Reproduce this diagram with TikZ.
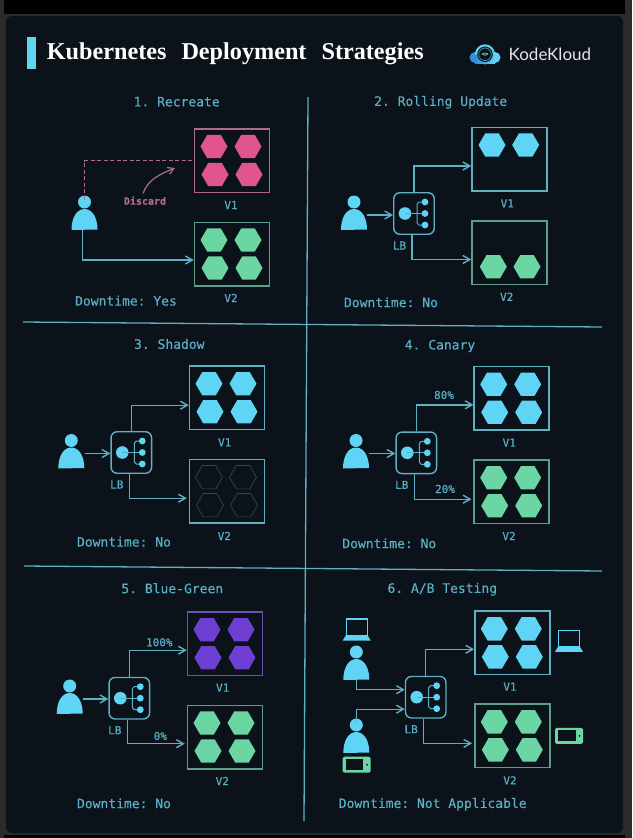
\documentclass[tikz,border=0pt]{standalone}
\usepackage{fontspec}
\setmonofont[FakeBold=0.3]{DejaVu Sans Mono}
\setmainfont{Liberation Serif}
\newfontfamily\logofont{Lato}
\usetikzlibrary{arrows.meta,shapes.geometric}
\definecolor{panelbg}{HTML}{0B1219}
\definecolor{sidegrey}{HTML}{2A2B2C}
\definecolor{cyanfill}{HTML}{5FD4F4}
\definecolor{lineblue}{HTML}{5FB0C4}
\definecolor{textblue}{HTML}{5AAFC6}
\definecolor{pinkfill}{HTML}{E0568C}
\definecolor{pinkline}{HTML}{B06A8E}
\definecolor{greenfill}{HTML}{6BD6A4}
\definecolor{greenline}{HTML}{5E9E86}
\definecolor{purplefill}{HTML}{6F3FD4}
\definecolor{purpleline}{HTML}{6A52B0}
\definecolor{dimline}{HTML}{36474C}
\definecolor{logoblue}{HTML}{2F8FD8}
\tikzset{
	hexnode/.style={regular polygon,regular polygon sides=6,minimum size=27pt,inner sep=0pt},
	vbox/.style={draw=#1,line width=1.5pt,minimum width=75pt,minimum height=63.5pt,inner sep=0pt},
	lbbox/.style={draw=lineblue,line width=1.4pt,rounded corners=6pt,minimum width=40.5pt,minimum height=41.5pt,inner sep=0pt},
	lbl/.style={font=\ttfamily\fontsize{13}{13}\selectfont,text=textblue,inner sep=0pt},
	smalltxt/.style={font=\ttfamily\fontsize{11}{11}\selectfont,text=textblue,inner sep=0pt},
	arr/.style={draw=lineblue,line width=1.4pt,-{Straight Barb[length=7pt,width=8pt]}},
	divline/.style={draw=lineblue,line width=1.3pt},
	usernode/.style={minimum width=26pt,minimum height=30pt,inner sep=0pt}
}
% user: box centre at #2,#3
\newcommand{\userat}[3]{
	\node[usernode] (#1) at (#2,#3) {};
	\fill[cyanfill] (#2,#3-13) circle (6.5);
	\fill[cyanfill] (#2-13,#3+15) .. controls (#2-13,#3+3) and (#2-8,#3-6) .. (#2,#3-6)
		.. controls (#2+8,#3-6) and (#2+13,#3+3) .. (#2+13,#3+14.5) -- cycle;
}
% load balancer
\newcommand{\lbat}[3]{
	\node[lbbox] (#1) at (#2,#3) {};
	\fill[cyanfill] (#2-9,#3) circle (6.3);
	\draw[lineblue,line width=1pt] (#2-9,#3) -- (#2+11,#3);
	\draw[lineblue,line width=1pt] (#2+11,#3-11.5) -- (#2+5,#3-11.5) -- (#2+3,#3-9.5) -- (#2+3,#3+9.5) -- (#2+5,#3+11.5) -- (#2+11,#3+11.5);
	\foreach \dd in {-11.5,0,11.5} \fill[cyanfill] (#2+11,#3+\dd) circle (3.4);
	\node[smalltxt] (#1lab) at (#2-14.5,#3+32) {LB};
}
% version box with four pods
\newcommand{\podsat}[5]{
	\node[vbox=#5] (#1) at (#2,#3) {};
	\foreach \dx/\dy/\pod in {-18/-14/a,16/-14/b,-17/14/c,17/14/d}
		\node[hexnode,#4] (#1\pod) at (#2+\dx,#3+\dy) {};
}
% laptop and phone
\newcommand{\laptopat}[3]{
	\node[inner sep=0pt,minimum width=28pt,minimum height=22pt] (#1) at (#2,#3) {};
	\draw[cyanfill,line width=1.2pt,fill=panelbg] (#2-10.5,#3-10.5) rectangle (#2+10.5,#3+6);
	\fill[cyanfill] (#2-11,#3+6) -- (#2+11,#3+6) -- (#2+14,#3+11) -- (#2-14,#3+11) -- cycle;
}
\newcommand{\phoneat}[3]{
	\node[inner sep=0pt,minimum width=28pt,minimum height=16pt] (#1) at (#2,#3) {};
	\fill[greenfill,rounded corners=1.5pt] (#2-14,#3-8) rectangle (#2+14,#3+8);
	\fill[panelbg] (#2-11,#3-5.5) rectangle (#2+6.5,#3+5.5);
	\fill[panelbg] (#2+10.5,#3) circle (1);
}
\begin{document}
\begin{tikzpicture}[x=1pt,y=-1pt]
	\useasboundingbox (0,0) rectangle (632,838);
	\fill[sidegrey] (0,0) rectangle (632,838);
	\fill[black] (4,0) rectangle (625,14);
	\fill[black] (4,835) rectangle (625,838);
	\fill[panelbg,rounded corners=6pt] (6,16) rectangle (623,833);
	% title
	\fill[cyanfill] (27,37) rectangle (36,69);
	\node[font=\bfseries\fontsize{24.2}{24}\selectfont,text=white,anchor=west,inner sep=0pt] (title) at (46.7,53.5) {Kubernetes\hspace{15pt}Deployment\hspace{15pt}Strategies};
	% logo
	\fill[logoblue] (475,57.5) circle (5.5);
	\fill[cyanfill] (495,57.5) circle (5.5);
	\fill[cyanfill] (485,54.3) circle (10);
	\fill[left color=logoblue,right color=cyanfill] (475,55) rectangle (495,63);
	\fill[panelbg] (485,54.3) circle (7.8);
	\draw[cyanfill!70!panelbg,line width=.7pt] (485,54.3) circle (6.3);
	\node[text=cyanfill,font=\ttfamily\fontsize{5.5}{6}\selectfont,inner sep=0pt] (logomark) at (485,54.3) {<>};
	\node[font=\logofont\fontsize{17}{18}\selectfont,text=white!90!black,anchor=west,inner sep=0pt] (logo) at (508.5,54.5) {KodeKloud};
	% dividers
	\draw[divline] (308,97) -- (304,821);
	\draw[divline] (23,322) -- (602,327);
	\draw[divline] (24,566) -- (602,571);
	% 1. recreate
	\node[lbl] (ta) at (176.7,101.7) {1. Recreate};
	\podsat{pa}{232}{160.5}{fill=pinkfill}{pinkline}
	\podsat{pb}{232}{254}{fill=greenfill}{greenline}
	\userat{ua}{84.5}{215}
	\node[font=\ttfamily\bfseries\fontsize{10}{10}\selectfont,text=pinkline,inner sep=0pt] (disc) at (145,200.7) {Discard};
	\coordinate (disctip) at (175,168);
	\draw[pinkline,line width=1.4pt,dash pattern=on 4pt off 2.5pt] (ua.north) |- (pa.west);
	\draw[pinkline,line width=1.2pt,-{Straight Barb[length=6pt,width=7pt]}] ([xshift=-2pt,yshift=3pt]disc.north) .. controls (148,180) and (158,175) .. (disctip);
	\draw[arr] ([xshift=-2pt]ua.south) |- ([yshift=-6pt]pb.west);
	\node[smalltxt] (va) at (231,205) {V1};
	\node[smalltxt] (vb) at (231,298) {V2};
	\node[lbl] (da) at (126,300.7) {Downtime: Yes};
	% 2. rolling update
	\node[lbl] (tb) at (440.7,102.3) {2. Rolling Update};
	\node[vbox=lineblue] (pc) at (509.5,159) {};
	\node[vbox=greenline] (pd) at (509.5,252.5) {};
	\node[hexnode,fill=cyanfill] (pca) at (492,145) {};
	\node[hexnode,fill=cyanfill] (pcb) at (525.7,145) {};
	\node[hexnode,fill=greenfill] (pda) at (493.3,266.7) {};
	\node[hexnode,fill=greenfill] (pdb) at (527,266.7) {};
	\userat{ub}{354}{215}
	\lbat{lb}{414}{213.5}
	\draw[arr] (ub.east) -- (ub.east -| lb.west);
	\draw[arr] (lb.north) |- ([yshift=-7pt]pc.west);
	\draw[arr] ([xshift=-2pt]lb.south) |- ([yshift=-7pt]pd.west);
	\node[smalltxt] (vc) at (507.3,203.3) {V1};
	\node[smalltxt] (vd) at (506.7,296.7) {V2};
	\node[lbl] (db) at (391,302.3) {Downtime: No};
	% 3. shadow
	\node[lbl] (tc) at (169.3,344) {3. Shadow};
	\podsat{pe}{227}{397.7}{fill=cyanfill}{lineblue}
	\podsat{pf}{227}{491.2}{draw=dimline,line width=.7pt}{lineblue}
	\userat{uc}{71.3}{453.5}
	\lbat{lc}{131.3}{452.5}
	\draw[arr] (uc.east) -- (uc.east -| lc.west);
	\draw[arr] (lc.north) |- ([yshift=-7.5pt]pe.west);
	\draw[arr] ([xshift=-2pt]lc.south) |- ([yshift=-7pt,xshift=-2pt]pf.west);
	\node[smalltxt] (ve) at (224.7,442.3) {V1};
	\node[smalltxt] (vf) at (224.3,536) {V2};
	\node[lbl] (dc) at (124,541.7) {Downtime: No};
	% 4. canary
	\node[lbl] (td) at (440,346) {4. Canary};
	\podsat{pg}{511.7}{398.3}{fill=cyanfill}{lineblue}
	\podsat{ph}{511.7}{491.7}{fill=greenfill}{greenline}
	\userat{ud}{356}{453.5}
	\lbat{ld}{416.3}{452.8}
	\draw[arr] (ud.east) -- (ud.east -| ld.west);
	\draw[arr] (ld.north) |- ([yshift=-6.5pt]pg.west);
	\draw[arr] ([xshift=-2pt]ld.south) |- ([yshift=-7.5pt,xshift=-2pt]ph.west);
	\node[smalltxt] (pcta) at (444,395) {80\%};
	\node[smalltxt] (pctb) at (445,489) {20\%};
	\node[smalltxt] (vg) at (509.3,442.7) {V1};
	\node[smalltxt] (vh) at (509,536) {V2};
	\node[lbl] (dd) at (389.3,543.3) {Downtime: No};
	% 5. blue-green
	\node[lbl] (te) at (172.3,588.3) {5. Blue-Green};
	\podsat{pi}{225}{643.7}{fill=purplefill}{purpleline}
	\podsat{pj}{225}{737}{fill=greenfill}{greenline}
	\userat{ue}{69.7}{699}
	\lbat{le}{129.3}{698.2}
	\draw[arr] (ue.east) -- (ue.east -| le.west);
	\draw[arr] (le.north) |- ([yshift=-6.5pt]pi.west);
	\draw[arr] ([xshift=-2pt]le.south) |- ([yshift=-6.7pt,xshift=-2pt]pj.west);
	\node[smalltxt] (pctc) at (159.3,642.3) {100\%};
	\node[smalltxt] (pctd) at (160.3,736) {0\%};
	\node[smalltxt] (vi) at (222.7,687.7) {V1};
	\node[smalltxt] (vj) at (222.3,781) {V2};
	\node[lbl] (de) at (124,803.3) {Downtime: No};
	% 6. a/b testing
	\node[lbl] (tf) at (442.3,589.3) {6. A/B Testing};
	\podsat{pk}{512.3}{642.8}{fill=cyanfill}{lineblue}
	\podsat{pl}{512.3}{735.8}{fill=greenfill}{greenline}
	\userat{uf}{356.3}{665}
	\userat{ug}{356.3}{738}
	\lbat{lf}{425.7}{697.2}
	\draw[arr] (uf.south) |- ([yshift=7.5pt]lf.west);
	\draw[arr] (ug.north) |- ([yshift=-12pt]lf.west);
	\draw[arr] (lf.north) |- ([yshift=-6.5pt]pk.west);
	\draw[arr] ([xshift=-2pt]lf.south) |- ([yshift=-7.5pt,xshift=-2pt]pl.west);
	\laptopat{lapa}{356.7}{629.5}
	\laptopat{lapb}{569}{640.8}
	\phoneat{phna}{356.7}{764.7}
	\phoneat{phnb}{569}{735.8}
	\node[smalltxt] (vk) at (510,686.7) {V1};
	\node[smalltxt] (vl) at (510,780.3) {V2};
	\node[lbl] (df) at (432.7,804.3) {Downtime: Not Applicable};
\end{tikzpicture}
\end{document}
